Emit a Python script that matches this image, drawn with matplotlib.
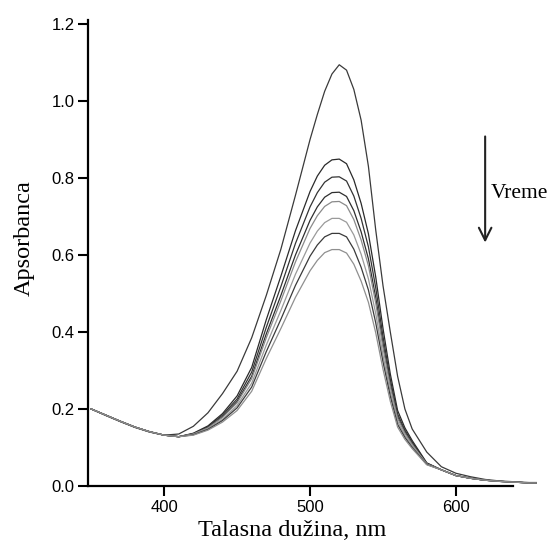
import matplotlib
matplotlib.use("Agg")
import matplotlib.pyplot as plt

# wavelength grid (nm)
wl = [350, 360, 370, 380, 390, 400, 410, 420, 430, 440, 450, 460, 470, 480, 490,
      500, 505, 510, 515, 520, 525, 530, 535, 540, 545, 550, 555, 560, 565, 570,
      580, 590, 600, 610, 620, 630, 640, 650, 655]

blue_tail = [0.200, 0.184, 0.168, 0.153, 0.141, 0.132, 0.128]
red_tail = [0.042, 0.027, 0.020, 0.015, 0.012, 0.010, 0.008, 0.008]

# absorbance spectra, from first to last measurement
a0 = [0.200, 0.183, 0.167, 0.152, 0.140, 0.132, 0.135, 0.155, 0.190, 0.240, 0.298,
      0.385, 0.495, 0.615, 0.755, 0.900, 0.965, 1.025, 1.070, 1.094, 1.080, 1.030,
      0.950, 0.830, 0.665, 0.520, 0.400, 0.285, 0.200, 0.148, 0.088, 0.050,
      0.033, 0.024, 0.017, 0.013, 0.011, 0.009, 0.009]
a1 = blue_tail + [0.137, 0.156, 0.188, 0.234, 0.308, 0.432, 0.545, 0.663, 0.765, 0.805,
                  0.833, 0.847, 0.849, 0.837, 0.795, 0.734, 0.655, 0.543, 0.409, 0.291,
                  0.196, 0.151, 0.118, 0.060] + red_tail
a2 = blue_tail + [0.136, 0.154, 0.184, 0.226, 0.296, 0.412, 0.518, 0.630, 0.725, 0.762,
                  0.789, 0.802, 0.803, 0.792, 0.753, 0.695, 0.621, 0.515, 0.388, 0.277,
                  0.187, 0.145, 0.114, 0.059] + red_tail
a3 = blue_tail + [0.135, 0.152, 0.180, 0.220, 0.285, 0.395, 0.495, 0.600, 0.690, 0.725,
                  0.750, 0.762, 0.763, 0.752, 0.715, 0.660, 0.590, 0.490, 0.370, 0.265,
                  0.180, 0.140, 0.110, 0.058] + red_tail
a4 = blue_tail + [0.135, 0.151, 0.178, 0.216, 0.279, 0.385, 0.481, 0.582, 0.669, 0.702,
                  0.726, 0.738, 0.739, 0.728, 0.692, 0.639, 0.572, 0.475, 0.359, 0.258,
                  0.176, 0.137, 0.108, 0.057] + red_tail
a5 = blue_tail + [0.134, 0.149, 0.173, 0.209, 0.267, 0.366, 0.456, 0.550, 0.631, 0.662,
                  0.684, 0.695, 0.695, 0.685, 0.652, 0.602, 0.538, 0.448, 0.339, 0.244,
                  0.168, 0.131, 0.104, 0.057] + red_tail
a6 = blue_tail + [0.133, 0.147, 0.170, 0.203, 0.257, 0.349, 0.433, 0.521, 0.597, 0.626,
                  0.647, 0.656, 0.656, 0.647, 0.615, 0.568, 0.509, 0.424, 0.322, 0.233,
                  0.160, 0.126, 0.100, 0.056] + red_tail
a7 = blue_tail + [0.132, 0.145, 0.166, 0.196, 0.246, 0.331, 0.409, 0.490, 0.559, 0.586,
                  0.606, 0.614, 0.614, 0.605, 0.576, 0.532, 0.477, 0.398, 0.303, 0.220,
                  0.153, 0.121, 0.097, 0.055] + red_tail

spectra = [a0, a1, a2, a3, a4, a5, a6, a7]
shades = ['#3a3a3a', '#2a2a2a', '#333333', '#2e2e2e', '#8a8a8a', '#9a9a9a', '#3a3a3a', '#8f8f8f']

fig = plt.figure(figsize=(5.57, 5.43), dpi=100)
ax = fig.add_axes([0.1585, 0.105, 0.8068, 0.858])

for a, c in zip(spectra, shades):
    ax.plot(wl, a, color=c, lw=0.9, solid_joinstyle='round')

ax.set_xlim(348, 656)
ax.set_ylim(0, 1.21)
ax.set_xticks([400, 500, 600])
ax.set_yticks([0.0, 0.2, 0.4, 0.6, 0.8, 1.0, 1.2])
ax.set_yticklabels(['0.0', '0.2', '0.4', '0.6', '0.8', '1.0', '1.2'])

for s in ['top', 'right']:
    ax.spines[s].set_visible(False)
for s in ['left', 'bottom']:
    ax.spines[s].set_linewidth(1.6)
ax.spines['bottom'].set_bounds(348, 639)
ax.spines['left'].set_bounds(0, 1.21)
ax.tick_params(direction='out', length=7, width=1.5, labelsize=12, pad=3)
for lab in ax.get_xticklabels() + ax.get_yticklabels():
    lab.set_fontfamily('Liberation Sans')

fig.text(0.524, 0.012, 'Talasna dužina, nm', ha='center', va='baseline',
         family='Liberation Serif', fontsize=17.5)
fig.text(0.043, 0.561, 'Apsorbanca', ha='center', va='center', rotation=90,
         family='Liberation Serif', fontsize=17.5)

# time arrow
ax.annotate('', xy=(620, 0.625), xytext=(620, 0.915),
            arrowprops=dict(arrowstyle='->,head_length=0.9,head_width=0.45', lw=1.5, color='#222222'))
ax.text(623.5, 0.76, 'Vreme', ha='left', va='center', family='Liberation Serif', fontsize=15.5)

fig.savefig('out.png', dpi=100)
